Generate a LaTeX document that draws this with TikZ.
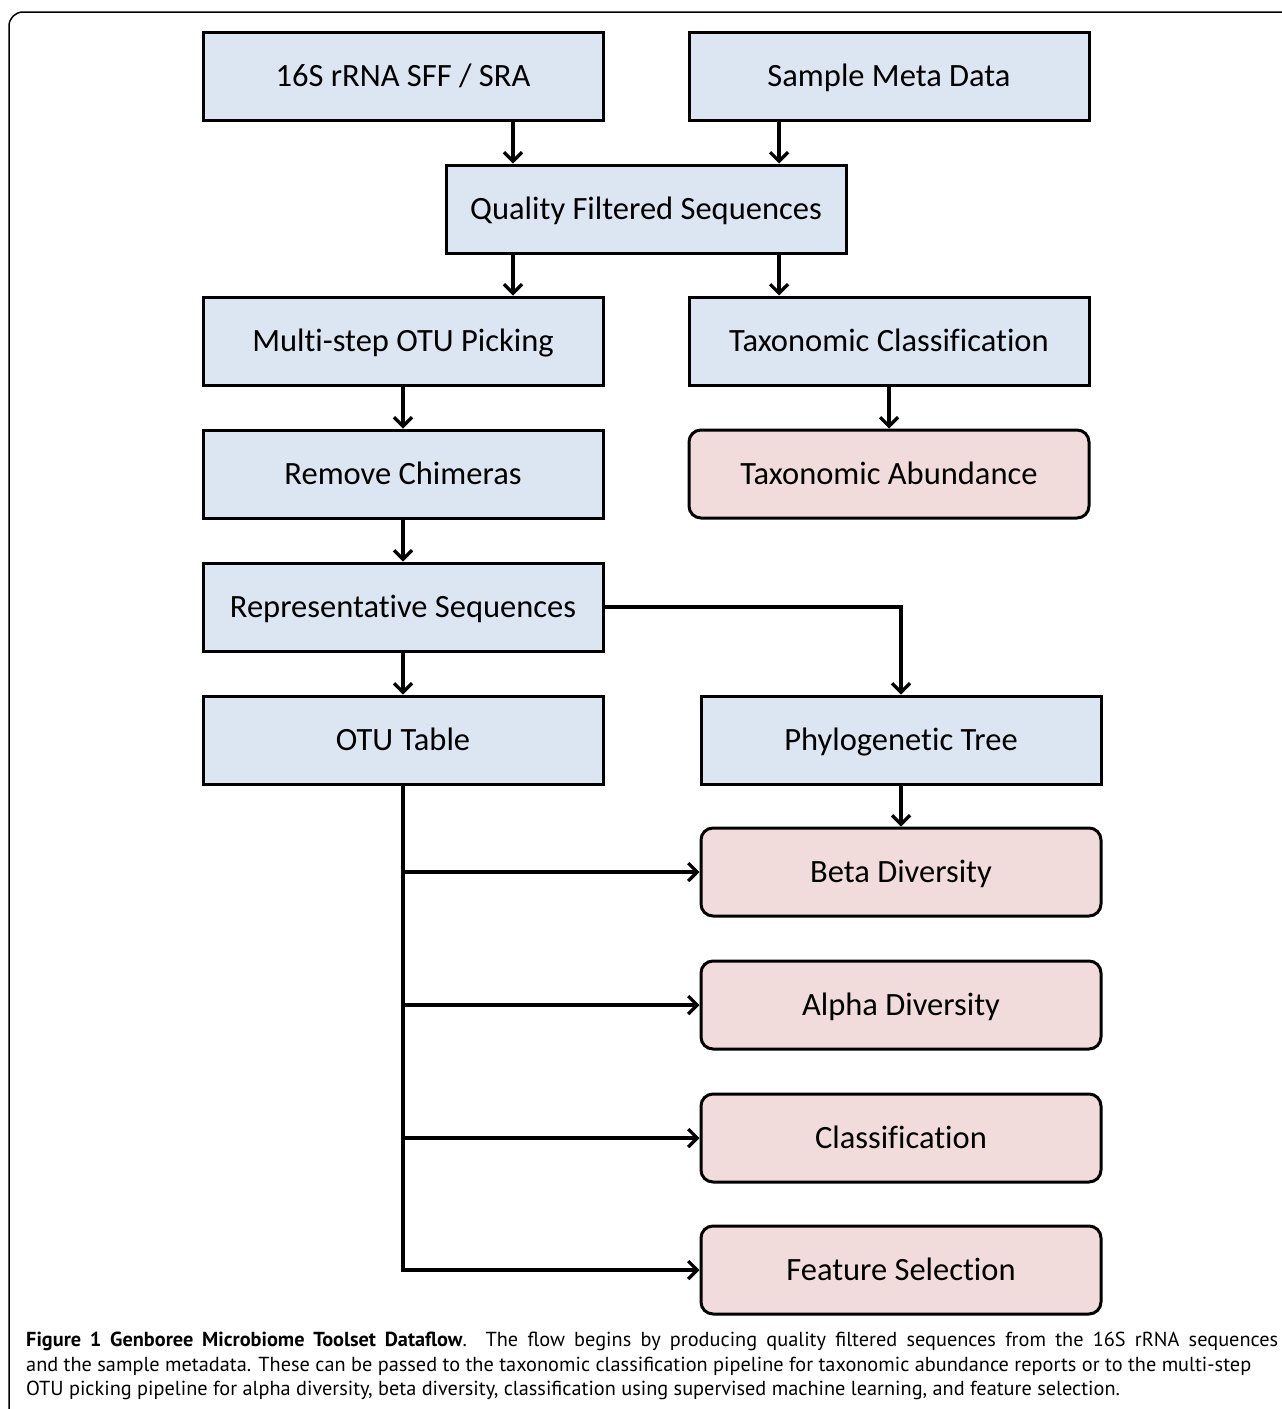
\documentclass[tikz,border=0pt]{standalone}
\usepackage{fontspec}
\setmainfont[Ligatures=NoCommon]{Carlito}
\newfontfamily\capfont{PT Sans}
\usetikzlibrary{arrows.meta,calc}
\definecolor{boxblue}{HTML}{DCE6F2}
\definecolor{boxpink}{HTML}{F2DCDB}

\begin{document}
\begin{tikzpicture}[x=1pt,y=-1pt,
  stepbox/.style={rectangle, draw, line width=3pt, fill=boxblue,
    minimum width=400pt, minimum height=88pt, inner sep=0pt,
    text height=21pt, text depth=0pt,
    font=\fontsize{32.5}{36}\selectfont},
  resultbox/.style={stepbox, fill=boxpink, rounded corners=12pt},
  flow/.style={line width=3.2pt, -{Straight Barb[length=9pt,width=18pt]}}]
  \useasboundingbox (0,0) rectangle (1282,1409);
  \draw[line width=1.5pt, rounded corners=14pt] (9,1409) -- (9,12) -- (1282,12);

  % input and filtering
  \node[stepbox] (sff) at (403,76) {16S rRNA SFF / SRA};
  \node[stepbox] (meta) at (889,76) {Sample Meta Data};
  \node[stepbox] (qual) at (646,209) {Quality Filtered Sequences};

  % two pipelines
  \node[stepbox] (otupick) at (403,341) {Multi-step OTU Picking};
  \node[stepbox] (taxclass) at (889,341) {Taxonomic Classification};
  \node[resultbox] (taxabund) at (889,474) {Taxonomic Abundance};
  \node[stepbox] (chim) at (403,474) {Remove Chimeras};
  \node[stepbox] (repseq) at (403,607) {Representative Sequences};
  \node[stepbox] (otutab) at (403,740) {OTU Table};
  \node[stepbox] (phylo) at (901,740) {Phylogenetic Tree};

  % results
  \node[resultbox] (beta) at (901,872) {Beta Diversity};
  \node[resultbox] (alpha) at (901,1005) {Alpha Diversity};
  \node[resultbox] (classif) at (901,1138) {Classification};
  \node[resultbox] (feat) at (901,1270) {Feature Selection};

  \coordinate (sffout) at ([xshift=110pt]sff.south);
  \coordinate (metaout) at ([xshift=-110pt]meta.south);
  \coordinate (qualleft) at ([xshift=-133pt]qual.south);
  \coordinate (qualright) at ([xshift=133pt]qual.south);

  \draw[flow] (sffout) -- (sffout |- qual.north);
  \draw[flow] (metaout) -- (metaout |- qual.north);
  \draw[flow] (qualleft) -- (qualleft |- otupick.north);
  \draw[flow] (qualright) -- (qualright |- taxclass.north);
  \draw[flow] (otupick) -- (chim);
  \draw[flow] (taxclass) -- (taxabund);
  \draw[flow] (chim) -- (repseq);
  \draw[flow] (repseq) -- (otutab);
  \draw[flow] (repseq.east) -| (phylo.north);
  \draw[flow] (phylo) -- (beta);
  \draw[flow] (otutab.south) |- (feat.west);
  \foreach \res in {beta,alpha,classif}
    \draw[flow] (otutab.south |- \res.west) -- (\res.west);

  % caption
  \node[anchor=north west, text width=1252pt, align=justify, inner sep=0pt,
    font=\capfont\fontsize{20.3}{24.5}\selectfont] (caption) at (26,1332)
    {\textbf{Figure 1 Genboree Microbiome Toolset Dataflow}. The flow begins by producing quality filtered sequences from the 16S rRNA sequences\linebreak
    and the sample metadata. These can be passed to the taxonomic classification pipeline for taxonomic abundance reports or to the multi-step\newline
    OTU picking pipeline for alpha diversity, beta diversity, classification using supervised machine learning, and feature selection.};
\end{tikzpicture}
\end{document}
